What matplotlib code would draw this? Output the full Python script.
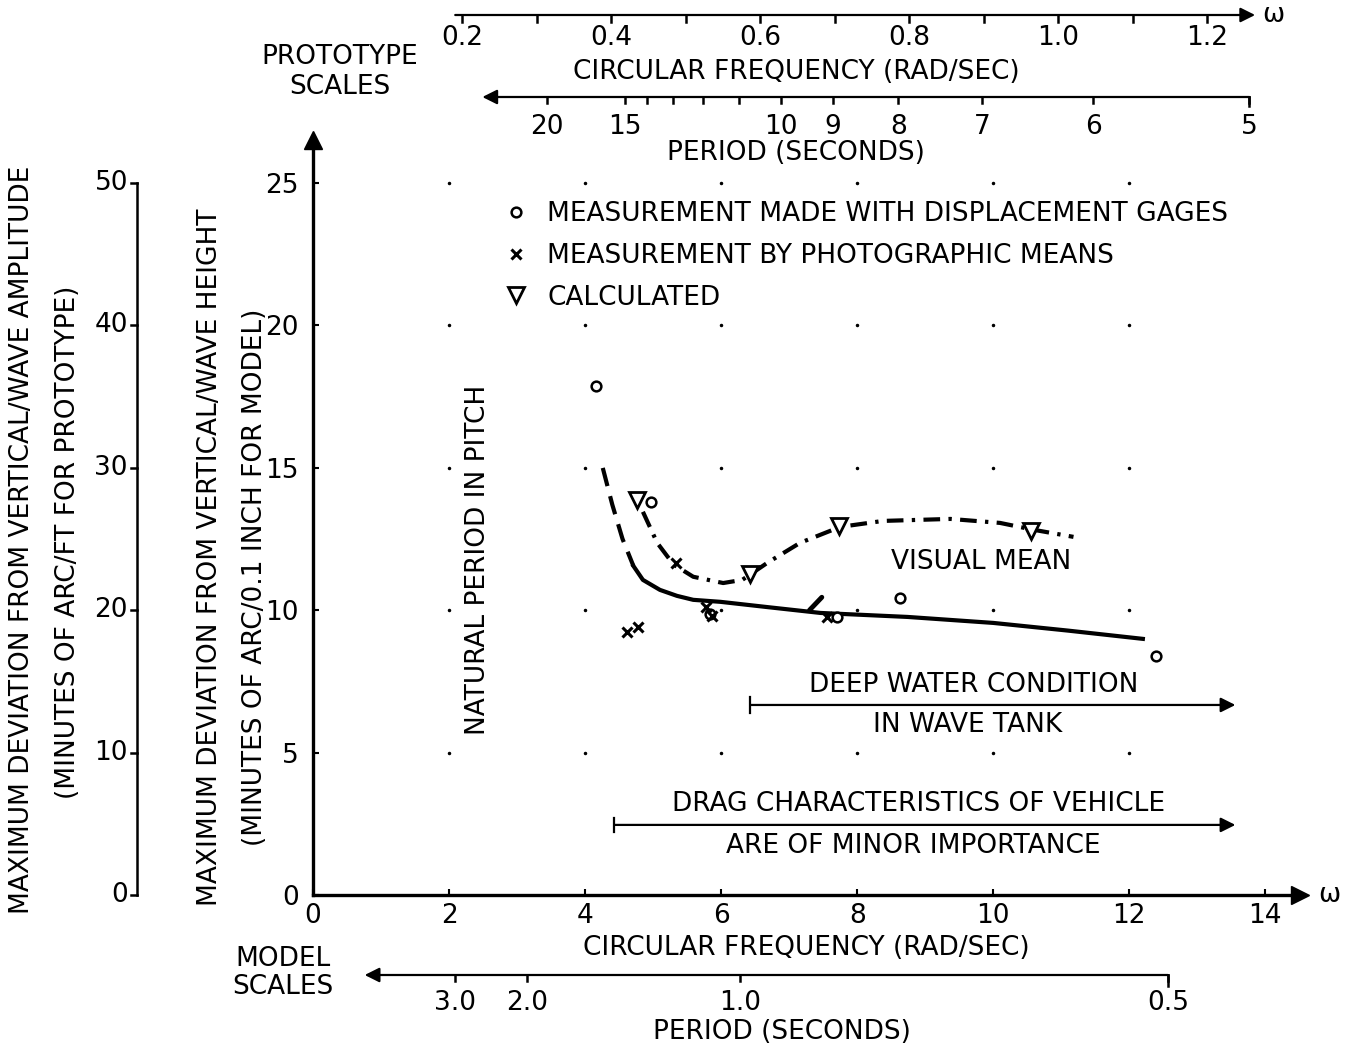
import numpy as np
import matplotlib.pyplot as plt
import matplotlib.transforms as mtransforms

plt.rcParams['font.family'] = ['DejaVu Sans']
FS = 19

# prototype / model frequency ratio (Froude scaling, 1:120 model)
SCALE = np.sqrt(120.0)

# measured points, model circular frequency (rad/sec) vs deviation (min of arc / 0.1 in)
gage_w = [4.16, 4.97, 5.84, 7.70, 8.63, 12.40]
gage_dev = [17.87, 13.80, 9.87, 9.76, 10.43, 8.39]
photo_w = [4.62, 4.78, 5.34, 5.78, 5.86, 7.56]
photo_dev = [9.23, 9.41, 11.66, 10.11, 9.80, 9.76]
calc_w = [4.76, 6.43, 7.74, 10.56]
calc_dev = [13.87, 11.27, 12.96, 12.78]

# visual mean curve of the measurements
mean_dash_w = [4.26, 4.40, 4.55, 4.71]
mean_dash_dev = [14.99, 13.70, 12.50, 11.55]
mean_w = [4.71, 4.85, 5.10, 5.35, 5.59, 5.99, 6.70, 7.46, 8.74, 10.00, 11.10, 12.20]
mean_dev = [11.55, 11.06, 10.71, 10.50, 10.36, 10.29, 10.10, 9.90, 9.76, 9.55, 9.28, 8.99]

# visual mean curve of the calculated points
calc_mean_w = [4.85, 5.06, 5.30, 5.59, 6.03, 6.31, 6.68, 7.16, 7.75, 8.38, 9.37, 10.10, 10.59, 11.18]
calc_mean_dev = [13.45, 12.36, 11.60, 11.17, 10.95, 11.06, 11.66, 12.36, 12.92, 13.13, 13.20, 13.06, 12.82, 12.57]

# scale ticks
model_ticks = [0, 2, 4, 6, 8, 10, 12, 14]
dev_ticks = [0, 5, 10, 15, 20, 25]
proto_dev_ticks = [0, 10, 20, 30, 40, 50]
proto_freq_ticks = [0.2, 0.4, 0.6, 0.8, 1.0, 1.2]
proto_freq_minor = [0.3, 0.5, 0.7, 0.9, 1.1]
proto_period_labels = [20, 15, 10, 9, 8, 7, 6, 5]
proto_period_minor = [14, 13, 12, 11]
model_period_ticks = [3.0, 2.0, 1.0, 0.5]
model_period_text = ['3.0', '2.0', '1.0', '0.5']


def px_x(px):
    return (px - 313) / 987.0


def px_y(py):
    return (895 - py) / 755.0


fig = plt.figure(figsize=(13.5, 10.49), dpi=100)
ax = fig.add_axes([313 / 1350, 1 - 895 / 1049, 987 / 1350, 755 / 1049])
ax.set_xlim(0, 14.51)
ax.set_ylim(0, 26.5)
for s in ['top', 'right']:
    ax.spines[s].set_visible(False)
for s in ['left', 'bottom']:
    ax.spines[s].set_linewidth(2.4)
ax.plot(1, 0, '>', color='k', ms=13, transform=ax.transAxes, clip_on=False)
ax.plot(0, 1, '^', color='k', ms=13, transform=ax.transAxes, clip_on=False)
ax.text(1.018, 0.0, 'ω', transform=ax.transAxes, fontsize=FS, va='center')

ax.set_xticks(model_ticks)
ax.set_xticklabels([str(t) for t in model_ticks], fontsize=FS)
ax.set_yticks(dev_ticks)
ax.set_yticklabels([str(t) for t in dev_ticks], fontsize=FS)
ax.tick_params(axis='x', direction='in', length=4, width=1.5, pad=6)
ax.tick_params(axis='y', direction='in', length=4, width=1.5, pad=10)
ax.set_xlabel('CIRCULAR FREQUENCY (RAD/SEC)', fontsize=FS, labelpad=4)

# dotted grid
gx, gy = np.meshgrid(model_ticks[1:-1], dev_ticks[1:])
ax.plot(gx.ravel(), gy.ravel(), '.', color='k', ms=3, ls='none')

# curves
ax.plot(mean_dash_w, mean_dash_dev, color='k', lw=3, dashes=(4.5, 2.5))
ax.plot(mean_w, mean_dev, color='k', lw=3)
ax.plot(calc_mean_w, calc_mean_dev, color='k', lw=3, dashes=(4, 2, 0.8, 2))
ax.plot([7.30, 7.48], [10.0, 10.45], color='k', lw=3.5, solid_capstyle='round')

# points
ax.plot(gage_w, gage_dev, 'o', mfc='white', mec='k', mew=1.8, ms=7, ls='none',
        label='MEASUREMENT MADE WITH DISPLACEMENT GAGES')
ax.plot(photo_w, photo_dev, 'x', color='k', mew=2.2, ms=7, ls='none',
        label='MEASUREMENT BY PHOTOGRAPHIC MEANS')
ax.plot(calc_w, calc_dev, 'v', mfc='white', mec='k', mew=2, ms=11, ls='none',
        label='CALCULATED')
ax.legend(loc='upper left', bbox_to_anchor=(px_x(505), px_y(201)), frameon=False,
          fontsize=FS, handlelength=0.8, handletextpad=0.8, labelspacing=0.6,
          borderpad=0, borderaxespad=0)

# annotations inside
ax.text(8.49, 11.69, 'VISUAL MEAN', fontsize=FS, va='center', ha='left')
ax.text(2.43, 11.76, 'NATURAL PERIOD IN PITCH', fontsize=FS, rotation=90,
        va='center', ha='center')

arrow_kw = dict(arrowstyle='-|>', lw=1.6, color='k', mutation_scale=22,
                shrinkA=0, shrinkB=0)
ax.annotate('', xy=(13.56, 6.67), xytext=(6.43, 6.67), arrowprops=arrow_kw)
ax.plot([6.43, 6.43], [6.4, 6.95], color='k', lw=1.6)
ax.text(9.71, 7.37, 'DEEP WATER CONDITION', fontsize=FS, ha='center', va='center')
ax.text(9.62, 5.97, 'IN WAVE TANK', fontsize=FS, ha='center', va='center')
ax.annotate('', xy=(13.56, 2.46), xytext=(4.43, 2.46), arrowprops=arrow_kw)
ax.plot([4.43, 4.43], [2.2, 2.72], color='k', lw=1.6)
ax.text(8.90, 3.20, 'DRAG CHARACTERISTICS OF VEHICLE', fontsize=FS, ha='center', va='center')
ax.text(8.82, 1.72, 'ARE OF MINOR IMPORTANCE', fontsize=FS, ha='center', va='center')

# ---- outer scales ----
bx = mtransforms.blended_transform_factory(ax.transData, ax.transAxes)
by = mtransforms.blended_transform_factory(ax.transAxes, ax.transData)
line_kw = dict(color='k', lw=1.8, clip_on=False)

# prototype deviation axis on the far left
xl = px_x(137)
ax.plot([xl, xl], [0, 25], transform=by, **line_kw)
for v in proto_dev_ticks:
    ax.plot([xl - 0.006, xl], [v / 2, v / 2], transform=by, **line_kw)
    ax.text(px_x(128), v / 2, str(v), transform=by, fontsize=FS, ha='right', va='center')

# prototype circular frequency (top)
yf = px_y(15)
ax.annotate('', xy=(13.85, yf), xytext=(0.2 * SCALE - 0.1, yf), xycoords=bx,
            arrowprops=arrow_kw, annotation_clip=False)
ax.text(13.95, yf, 'ω', transform=bx, fontsize=FS, va='center', ha='left')
for v in proto_freq_ticks + proto_freq_minor:
    ax.plot([v * SCALE] * 2, [yf, yf - 0.009], transform=bx, **line_kw)
for v in proto_freq_ticks:
    ax.text(v * SCALE, px_y(38), f'{v:.1f}', transform=bx, fontsize=FS,
            ha='center', va='center')
ax.text(7.1, px_y(72), 'CIRCULAR FREQUENCY (RAD/SEC)', transform=bx, fontsize=FS,
        ha='center', va='center')

# prototype period (top)
yp = px_y(97)
t_end = 2 * np.pi * SCALE / 5
ax.annotate('', xy=(2.49, yp), xytext=(t_end, yp), xycoords=bx,
            arrowprops=arrow_kw, annotation_clip=False)
ax.plot([t_end] * 2, [yp, yp - 0.012], transform=bx, **line_kw)
for T in proto_period_labels + proto_period_minor:
    ax.plot([2 * np.pi * SCALE / T] * 2, [yp, yp - 0.008], transform=bx, **line_kw)
for T in proto_period_labels:
    ax.text(2 * np.pi * SCALE / T, px_y(127), str(T), transform=bx, fontsize=FS,
            ha='center', va='center')
ax.text(7.1, px_y(153), 'PERIOD (SECONDS)', transform=bx, fontsize=FS,
        ha='center', va='center')
fig.text(340 / 1350, 1 - 72 / 1049, 'PROTOTYPE\nSCALES', fontsize=FS, ha='center',
         va='center', linespacing=1.15)

# model period (bottom)
ym = px_y(975)
m_end = 2 * np.pi / 0.5
ax.annotate('', xy=(0.76, ym), xytext=(m_end, ym), xycoords=bx,
            arrowprops=arrow_kw, annotation_clip=False)
ax.plot([m_end] * 2, [ym, ym - 0.014], transform=bx, **line_kw)
for T, lab in zip(model_period_ticks, model_period_text):
    ax.plot([2 * np.pi / T] * 2, [ym, ym - 0.008], transform=bx, **line_kw)
    ax.text(2 * np.pi / T, px_y(1003), lab, transform=bx, fontsize=FS,
            ha='center', va='center')
ax.text(6.9, px_y(1032), 'PERIOD (SECONDS)', transform=bx, fontsize=FS,
        ha='center', va='center')
fig.text(283 / 1350, 1 - 973 / 1049, 'MODEL\nSCALES', fontsize=FS, ha='center',
         va='center', linespacing=1.15)

# left axis titles
fig.text(22 / 1350, 1 - 540 / 1049, 'MAXIMUM DEVIATION FROM VERTICAL/WAVE AMPLITUDE',
         fontsize=FS, rotation=90, ha='center', va='center')
fig.text(68 / 1350, 1 - 542 / 1049, '(MINUTES OF ARC/FT FOR PROTOTYPE)',
         fontsize=FS, rotation=90, ha='center', va='center')
fig.text(210 / 1350, 1 - 557 / 1049, 'MAXIMUM DEVIATION FROM VERTICAL/WAVE HEIGHT',
         fontsize=FS, rotation=90, ha='center', va='center')
fig.text(255 / 1350, 1 - 577 / 1049, '(MINUTES OF ARC/0.1 INCH FOR MODEL)',
         fontsize=FS, rotation=90, ha='center', va='center')

fig.savefig('out.png', dpi=100)
